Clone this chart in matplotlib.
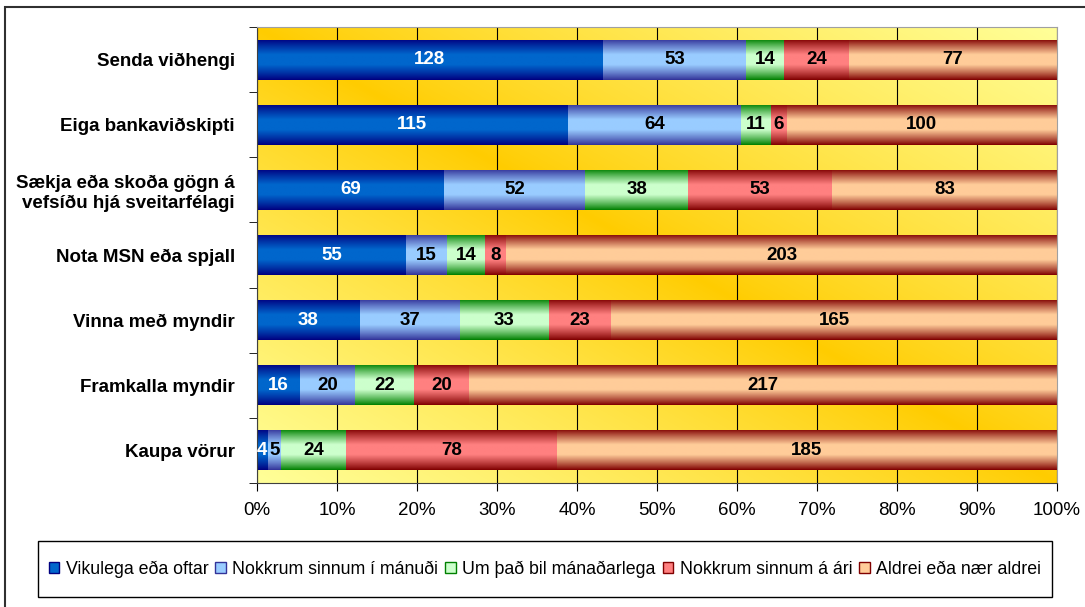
import numpy as np
import matplotlib
matplotlib.use("Agg")
import matplotlib.pyplot as plt
from matplotlib.colors import to_rgb
from matplotlib.patches import Patch, Rectangle

plt.rcParams['font.family'] = ['Liberation Sans', 'DejaVu Sans']

# data
categories = ["Senda viðhengi", "Eiga bankaviðskipti",
              "Sækja eða skoða gögn á\nvefsíðu hjá sveitarfélagi",
              "Nota MSN eða spjall", "Vinna með myndir",
              "Framkalla myndir", "Kaupa vörur"]
series_names = ["Vikulega eða oftar", "Nokkrum sinnum í mánuði",
                "Um það bil mánaðarlega", "Nokkrum sinnum á ári",
                "Aldrei eða nær aldrei"]
vikulega = [128, 115, 69, 55, 38, 16, 4]
manudi = [53, 64, 52, 15, 37, 20, 5]
manadarlega = [14, 11, 38, 14, 33, 22, 24]
ari = [24, 6, 53, 8, 23, 20, 78]
aldrei = [77, 100, 83, 203, 165, 217, 185]
x_ticks = [0, 10, 20, 30, 40, 50, 60, 70, 80, 90, 100]

# colours: (centre, edge) for the shaded bars
centre_cols = ["#0066CC", "#99CCFF", "#CCFFCC", "#FF8080", "#FFCC99"]
edge_cols = ["#000080", "#333399", "#008000", "#800000", "#800000"]
text_cols = ["white", "black", "black", "black", "black"]

values = np.array([vikulega, manudi, manadarlega, ari, aldrei], dtype=float)
totals = values.sum(axis=0)
pct = values / totals * 100

fig = plt.figure(figsize=(10.85, 6.07), dpi=100)
ax = fig.add_axes([257 / 1085, 1 - 483 / 607, 800 / 1085, 456 / 607])

# plot area background: diagonal gold/light-yellow gradient
# (gold from top-left to bottom-right, light at the other two corners)
xx, yy = np.meshgrid(np.linspace(0, 1, 400), np.linspace(0, 1, 300))
d = np.clip(np.abs(xx - yy), 0, 1) ** 0.85
gold = np.array(to_rgb("#FFCC00"))
light = np.array(to_rgb("#FFFF99"))
bg = gold + (light - gold) * d[..., None]
# row 0 = top of the axes
ax.imshow(bg, extent=(0, 1, 0, 1), transform=ax.transAxes, aspect='auto',
          zorder=0, interpolation='bilinear')

y = np.arange(len(categories))
bar_h = 0.615

# vertical shading profile for the bars
t = np.linspace(0, 1, 60)
prof = np.clip((np.minimum(t, 1 - t) / 0.5) / 0.75, 0, 1) ** 0.9

left = np.zeros(len(categories))
for i in range(len(series_names)):
    bars = ax.barh(y, pct[i], left=left, height=bar_h, color=centre_cols[i],
                   label=series_names[i], zorder=2, linewidth=0)
    c = np.array(to_rgb(centre_cols[i]))
    e = np.array(to_rgb(edge_cols[i]))
    grad = (e + (c - e) * prof[:, None])[:, None, :]
    for b, v in zip(bars, values[i]):
        x0, y0 = b.get_x(), b.get_y()
        w, h = b.get_width(), b.get_height()
        im = ax.imshow(grad, extent=(x0, x0 + w, y0 + h, y0), aspect='auto',
                       zorder=2.5, interpolation='bilinear')
        im.set_clip_path(b)
        ax.text(x0 + w / 2, y0 + h / 2, f"{int(v)}", ha='center', va='center',
                color=text_cols[i], fontsize=13.5, fontweight='bold', zorder=4)
    left += pct[i]

ax.set_xlim(0, 100)
ax.set_ylim(len(categories) - 0.5, -0.5)
ax.set_xticks(x_ticks)
ax.set_xticklabels([f"{v}%" for v in x_ticks], fontsize=13.5)
ax.set_yticks(y)
ax.set_yticklabels(categories, fontsize=13.5, fontweight='bold')
ax.set_yticks(np.arange(-0.5, len(categories)), minor=True)
ax.tick_params(axis='y', which='major', length=0, pad=16)
ax.tick_params(axis='y', which='minor', length=6, direction='out')
ax.tick_params(axis='x', length=6, direction='out', pad=8)
ax.set_axisbelow(True)
ax.grid(axis='x', color='black', linewidth=0.8)
for s in ['left', 'bottom']:
    ax.spines[s].set_color('#404040')
for s in ['top', 'right']:
    ax.spines[s].set_color('#A0A0A0')

# legend with its own box
fig.add_artist(Rectangle((38 / 1085, 1 - 597 / 607), 1014 / 1085, 56 / 607,
                         transform=fig.transFigure, facecolor='white',
                         edgecolor='black', linewidth=1))
handles = [Patch(facecolor=centre_cols[i], edgecolor=edge_cols[i])
           for i in range(len(series_names))]
fig.legend(handles, series_names, loc='center', ncol=5,
           bbox_to_anchor=(545 / 1085, 1 - 569 / 607), frameon=False,
           fontsize=12.8, handlelength=0.6, handleheight=0.6,
           handletextpad=0.35, columnspacing=0.4)

# chart border (left and top visible)
fig.add_artist(Rectangle((5 / 1085, -0.1), 1.2, 1.1 - 7 / 607,
                         transform=fig.transFigure, facecolor='none',
                         edgecolor='#303030', linewidth=1.5))

fig.savefig("out.png", dpi=100)
